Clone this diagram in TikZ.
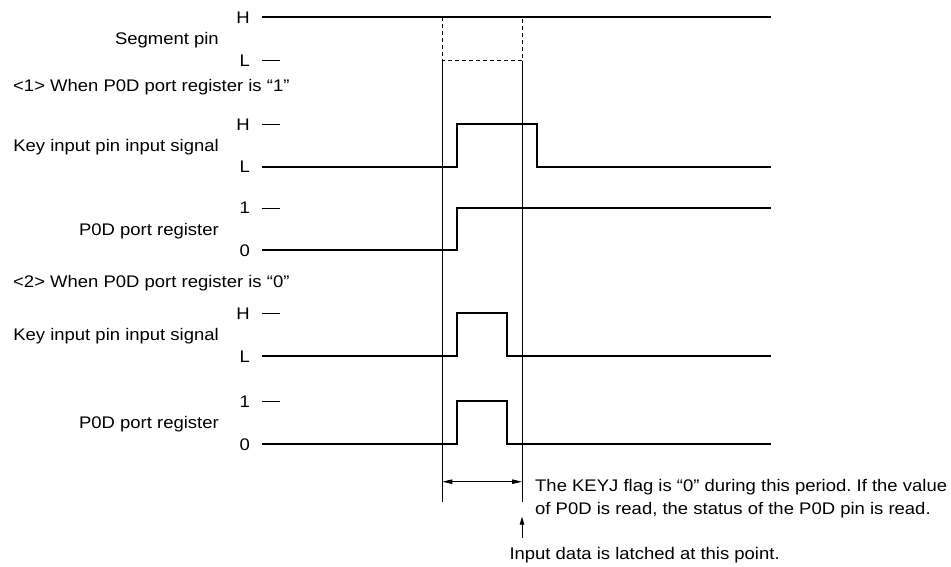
\documentclass[tikz,border=0pt]{standalone}
\usepackage{fontspec}
\setmainfont{Liberation Sans}[FakeStretch=1.1]
\usetikzlibrary{arrows.meta}
\tikzset{
  sig/.style={line width=2.2pt, line join=miter},
  tickline/.style={line width=0.9pt},
  guide/.style={line width=0.9pt},
  dguide/.style={line width=0.9pt, dash pattern=on 4pt off 3pt},
  lbltext/.style={font=\fontsize{16.8}{19}\selectfont\frenchspacing, inner sep=0pt},
  lvl/.style={lbltext, anchor=base east},
  signame/.style={lbltext, anchor=base east},
  notetext/.style={lbltext, anchor=base west},
  dimarrow/.style={line width=0.9pt, {Triangle[length=10pt,width=4.5pt]}-{Triangle[length=10pt,width=4.5pt]}},
  uparrow/.style={line width=0.9pt, -{Triangle[length=8pt,width=4.5pt]}},
}
\begin{document}
\begin{tikzpicture}[x=1pt,y=-1pt]
\useasboundingbox (0,0) rectangle (951,567);

% ---------- Segment pin ----------
\node[lvl] (segH) at (250,23.3) {H};
\node[lvl] (segL) at (250,66.7) {L};
\node[signame] (segname) at (219,45) {Segment pin};
\draw[sig] (262,17.3) -- (771,17.3);
\draw[tickline] (262,60.7) -- (280,60.7);

% ---------- <1> ----------
\node[notetext] (case1) at (13,92) {<1> When P0D port register is “1”};

\node[lvl] (k1H) at (250,130.3) {H};
\node[lvl] (k1L) at (250,173) {L};
\node[signame] (k1name) at (219,151.7) {Key input pin input signal};
\draw[tickline] (262,124.3) -- (280,124.3);
\draw[sig] (262,167) -- (457.3,167) -- (457.3,124.3) -- (537,124.3) -- (537,167) -- (771,167);

\node[lvl] (p1one) at (250,214) {1};
\node[lvl] (p1zero) at (250,256.3) {0};
\node[signame] (p1name) at (219,235.2) {P0D port register};
\draw[tickline] (262,208) -- (280,208);
\draw[sig] (262,250.3) -- (457.3,250.3) -- (457.3,208) -- (771,208);

% ---------- <2> ----------
\node[notetext] (case2) at (13,287) {<2> When P0D port register is “0”};

\node[lvl] (k2H) at (250,319.3) {H};
\node[lvl] (k2L) at (250,362) {L};
\node[signame] (k2name) at (219,340.7) {Key input pin input signal};
\draw[tickline] (262,313.3) -- (280,313.3);
\draw[sig] (262,356) -- (457.3,356) -- (457.3,313.3) -- (507,313.3) -- (507,356) -- (771,356);

\node[lvl] (p2one) at (250,407.3) {1};
\node[lvl] (p2zero) at (250,450.3) {0};
\node[signame] (p2name) at (219,428.8) {P0D port register};
\draw[tickline] (262,401.3) -- (280,401.3);
\draw[sig] (262,444.3) -- (457.3,444.3) -- (457.3,401.3) -- (507,401.3) -- (507,444.3) -- (771,444.3);

% ---------- timing guides ----------
\coordinate (gLtop) at (442.3,17.3);
\coordinate (gRtop) at (522,17.3);
\coordinate (gLmid) at (442.3,60.7);
\coordinate (gRmid) at (522,60.7);
\coordinate (gLbot) at (442.3,501.7);
\coordinate (gRbot) at (522,501.7);
\draw[dguide] (gLtop) -- (gLmid) -- (gRmid) -- (gRtop);
\draw[guide] (gLmid) -- (gLbot);
\draw[guide] (gRmid) -- (gRbot);

\coordinate (aL) at (442.3,481.7);
\coordinate (aR) at (522,481.7);
\draw[dimarrow] (aL) -- (aR);

\coordinate (upS) at (522,538);
\coordinate (upE) at (522,516.7);
\draw[uparrow] (upS) -- (upE);

% ---------- notes ----------
\node[notetext] (keyj1) at (535,491.7) {The KEYJ flag is “0” during this period. If the value};
\node[notetext] (keyj2) at (535,514) {of P0D is read, the status of the P0D pin is read.};
\node[notetext] (latch) at (509.3,559.3) {Input data is latched at this point.};
\end{tikzpicture}
\end{document}
